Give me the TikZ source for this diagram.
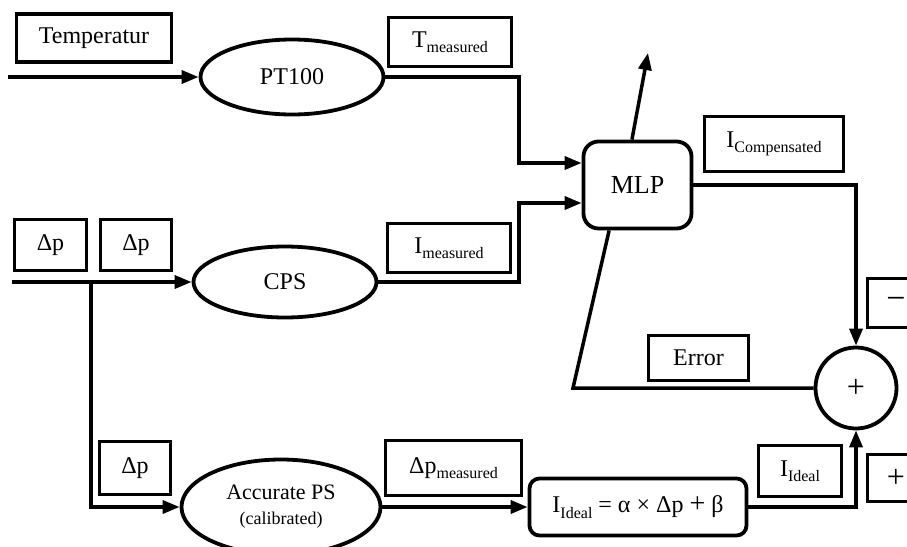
\documentclass[tikz,border=0pt]{standalone}
\usepackage{fontspec}
\setmainfont{Liberation Serif}
\usetikzlibrary{arrows.meta,shapes.geometric}
\newcommand{\mysub}[1]{\raisebox{-0.5ex}{\fontsize{16}{18}\selectfont #1}}
\begin{document}
\begin{tikzpicture}[x=1pt,y=-1pt,
  lbl/.style={draw, line width=3.8pt, rectangle, inner sep=0pt, font=\fontsize{24}{28}\selectfont},
  ell/.style={draw, line width=3.8pt, ellipse, inner sep=0pt, font=\fontsize{24}{28}\selectfont},
  rbox/.style={draw, line width=3.8pt, rectangle, rounded corners=#1, inner sep=0pt, font=\fontsize{24}{28}\selectfont},
  conn/.style={line width=3.5pt},
  arr/.style={conn, -{Triangle[length=17pt,width=13pt]}},
]
\useasboundingbox (0,0) rectangle (907,546);

% nodes
\node[lbl, minimum width=155pt, minimum height=48pt] (temp) at (94,38) {Temperatur};
\node[ell, minimum width=183pt, minimum height=75pt] (pt) at (292,77) {PT100};
\node[lbl, minimum width=123pt, minimum height=49pt] (tm) at (450,42) {T\mysub{measured}};
\node[rbox=15pt, minimum width=108pt, minimum height=87pt, font=\fontsize{26}{30}\selectfont] (mlp) at (637.5,185) {MLP};
\node[lbl, minimum width=139pt, minimum height=55pt] (ic) at (774,144) {I\mysub{Compensated}};

\node[lbl, minimum width=72pt, minimum height=51pt] (dp1) at (50.5,245) {Δp};
\node[lbl, minimum width=71pt, minimum height=51pt] (dp2) at (136,245) {Δp};
\node[ell, minimum width=183pt, minimum height=71pt] (cps) at (285,282) {CPS};
\node[lbl, minimum width=123pt, minimum height=49pt] (im) at (449,248) {I\mysub{measured}};

\node[lbl, minimum width=100pt, minimum height=45pt] (err) at (698.5,358) {Error};
\node[draw, circle, line width=3.8pt, minimum size=81pt, inner sep=0pt, font=\fontsize{32}{36}\selectfont] (sum) at (856,388) {+};
\node[lbl, minimum width=57pt, minimum height=49pt, font=\fontsize{34}{36}\selectfont] (minus) at (896,303) {−};
\node[lbl, minimum width=57pt, minimum height=47pt, font=\fontsize{32}{36}\selectfont] (plus) at (896,478) {+};

\node[lbl, minimum width=71pt, minimum height=53pt] (dp3) at (135,468) {Δp};
\node[ell, minimum width=199pt, minimum height=95pt, align=center] (aps) at (281,507)
  {{\fontsize{22}{24}\selectfont Accurate PS}\\[-3pt]{\fontsize{18}{20}\selectfont (calibrated)}};
\node[lbl, minimum width=136pt, minimum height=55pt] (dpm) at (453.5,468) {Δp\mysub{measured}};
\node[rbox=10pt, minimum width=217pt, minimum height=57pt] (form) at (638,507)
  {I\mysub{Ideal} = α × Δp {\fontsize{28}{28}\selectfont +} β};
\node[lbl, minimum width=83pt, minimum height=51pt] (ii) at (800,471) {I\mysub{Ideal}};

% coordinates
\coordinate (tin) at (8,77);
\coordinate (j1) at (519,163);
\coordinate (j2) at (519,203);
\coordinate (up) at (648,53);
\coordinate (e1) at (573,388);
\coordinate (din) at (12,282);
\coordinate (br) at (91,282);

% connectors
\draw[arr] (tin) -- (pt.west);
\draw[arr] (pt.east) -| (j1) -- (j1 -| mlp.west);
\draw[arr] (cps.east) -| (j2) -- (j2 -| mlp.west);
\draw[arr] (mlp.97) -- (up);
\draw[arr] (mlp.east) -| (sum.north);
\draw[arr] (form.east) -| (sum.south);
\draw[conn] (sum.west) -- (e1) -- (mlp.238);
\draw[arr] (din) -- (cps.west);
\draw[arr] (br) |- (aps.west);
\draw[arr] (aps.east) -- (form.west);
\end{tikzpicture}
\end{document}
